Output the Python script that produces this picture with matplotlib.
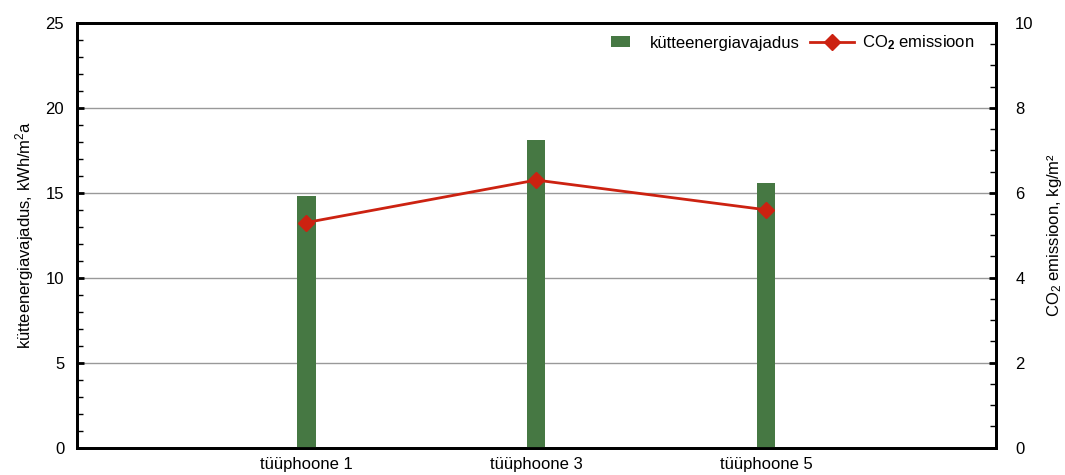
import matplotlib
matplotlib.use("Agg")
import matplotlib.pyplot as plt
from matplotlib.ticker import MultipleLocator
from matplotlib.patches import Patch, Rectangle
from matplotlib.lines import Line2D
from matplotlib.legend_handler import HandlerPatch

plt.rcParams['font.family'] = ['Liberation Sans', 'DejaVu Sans']
plt.rcParams['mathtext.fontset'] = 'custom'
plt.rcParams['mathtext.rm'] = 'Liberation Sans'
plt.rcParams['mathtext.it'] = 'Liberation Sans'
plt.rcParams['mathtext.bf'] = 'Liberation Sans:bold'

categories = ["tüüphoone 1", "tüüphoone 3", "tüüphoone 5"]
heating_demand = [14.8, 18.1, 15.6]   # kWh/m²a
co2_emission = [5.3, 6.3, 5.6]        # kg/m²

green = "#467843"
red = "#cc2211"
fs = 12

fig = plt.figure(figsize=(10.65, 4.75), dpi=100)
ax = fig.add_axes([76.7 / 1065, 1 - 447.5 / 475, 919 / 1065, 424.5 / 475])
ax2 = ax.twinx()

x = list(range(len(categories)))
ax.bar(x, heating_demand, width=0.08, color=green, zorder=3)
ax2.plot(x, co2_emission, color=red, lw=2, marker='D', markersize=8.5,
         markeredgecolor=red, zorder=4)

ax.set_xlim(-1, 3)
ax.set_ylim(0, 25)
ax2.set_ylim(0, 10)
ax.set_xticks(x)
ax.set_xticklabels(categories, fontsize=fs)
ax.tick_params(axis='x', length=0, pad=7)

ax.yaxis.set_major_locator(MultipleLocator(5))
ax.yaxis.set_minor_locator(MultipleLocator(1))
ax2.yaxis.set_major_locator(MultipleLocator(2))
ax2.yaxis.set_minor_locator(MultipleLocator(0.5))

ax.tick_params(axis='y', which='major', direction='in', length=5, width=2,
               labelsize=fs, pad=9)
ax.tick_params(axis='y', which='minor', direction='in', length=4, width=1)
ax2.tick_params(axis='y', which='major', direction='in', length=5, width=2,
                labelsize=fs, pad=14)
ax2.tick_params(axis='y', which='minor', direction='in', length=4, width=1)

ax.grid(axis='y', which='major', color='#999999', lw=1, zorder=1)
ax.set_axisbelow(True)

for a in (ax, ax2):
    for s in a.spines.values():
        s.set_linewidth(2)
        s.set_color('black')

ax.set_ylabel("kütteenergiavajadus, kWh/m$^2$a", fontsize=fs, labelpad=7)
ax2.set_ylabel("CO$_2$ emissioon, kg/m²", fontsize=fs, rotation=90, labelpad=8)


class SmallBox(HandlerPatch):
    """Legend box narrower than the legend handle length."""
    def create_artists(self, legend, orig_handle, xdescent, ydescent,
                       width, height, fontsize, trans):
        w, h = 13.7, 8.0
        r = Rectangle((-xdescent + (width - w) / 2, -ydescent + (height - h) / 2),
                      w, h, facecolor=orig_handle.get_facecolor(),
                      edgecolor='none', transform=trans)
        return [r]


box = Patch(color=green)
handles = [box,
           Line2D([0], [0], color=red, lw=2, marker='D', markersize=8.5)]
labels = ["kütteenergiavajadus", "CO$_\\mathbf{2}$ emissioon"]
ax2.legend(handles, labels, loc='upper right', ncol=2, frameon=False,
           fontsize=fs, bbox_to_anchor=(0.993, 1.01), handlelength=2.6,
           columnspacing=0.6, handletextpad=0.5,
           handler_map={box: SmallBox()})

fig.savefig("out.png", dpi=100)
